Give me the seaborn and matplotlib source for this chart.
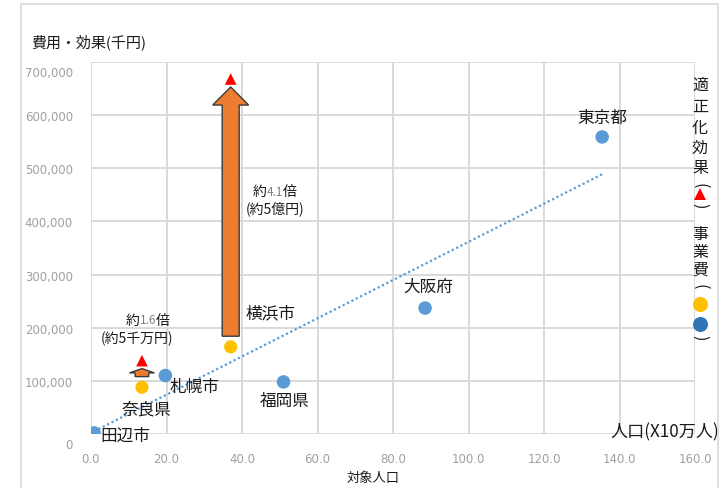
import numpy as np
import pandas as pd
import matplotlib
matplotlib.use("Agg")
import matplotlib.pyplot as plt
import matplotlib.transforms as mtransforms
from matplotlib.patches import FancyArrow, Rectangle
from matplotlib.lines import Line2D
import seaborn as sns

# 事業費のみの自治体（人口: 10万人単位, 費用: 千円）
blue_names = ["田辺市", "札幌市", "福岡県", "大阪府", "東京都"]
blue_pop = [0.8, 19.7, 51.0, 88.5, 135.4]
blue_cost = [2000, 110000, 98000, 237000, 559000]

# 事業費と適正化効果の両方がある自治体
yel_names = ["奈良県", "横浜市"]
yel_pop = [13.5, 37.0]
yel_cost = [88000, 164000]
yel_effect = [138000, 668000]
ratio_text = ["1.6", "4.1"]
gain_text = ["(約5千万円)", "(約5億円)"]

x_ticks = [0, 20, 40, 60, 80, 100, 120, 140, 160]
y_ticks = [0, 100000, 200000, 300000, 400000, 500000, 600000, 700000]

BLUE = "#5B9BD5"
BLUE_DARK = "#2E75B6"
YELLOW = "#FFC000"
RED = "#FF0000"
ORANGE = "#ED7D31"
GRID = "#D9D9D9"
TICK = "#A0A0A0"
INK = "#1A1A1A"

sns.set_theme(style="white")
plt.rcParams["font.family"] = ["Noto Sans CJK JP", "DejaVu Sans"]

W, H = 722, 489
fig = plt.figure(figsize=(W / 100, H / 100), dpi=100)


def fx(px):
    return px / W


def fy(py):
    return 1 - py / H


# chart frame
fig.add_artist(Rectangle((fx(21), fy(500)), fx(718) - fx(21), fy(5) - fy(500),
                         transform=fig.transFigure, fill=False,
                         edgecolor=GRID, lw=1.2))

ax = fig.add_axes([fx(91), fy(435), fx(695) - fx(91), fy(63) - fy(435)])
ax.set_xlim(0, 160)
ax.set_ylim(0, 700000)

# linear trend over every 事業費 point
cost_df = pd.DataFrame({"pop": blue_pop + yel_pop, "cost": blue_cost + yel_cost})
sns.regplot(data=cost_df, x="pop", y="cost", scatter=False, ci=None,
            truncate=True, ax=ax,
            line_kws=dict(color=BLUE, lw=1.6, ls=(0, (1, 1.2)), zorder=2))

# arrows from 事業費 up to 適正化効果
arrow_style = [dict(width=3.6, head_width=6.6, head_length=8000),
               dict(width=4.5, head_width=9.5, head_length=34000)]
for x, c, e, st in zip(yel_pop, yel_cost, yel_effect, arrow_style):
    y0 = c + 20000
    y1 = e - 15000
    ax.add_patch(FancyArrow(x, y0, 0, y1 - y0, length_includes_head=True,
                            facecolor=ORANGE, edgecolor="#3A3A3A", lw=1.0,
                            zorder=3, **st))

sns.scatterplot(x=blue_pop, y=blue_cost, color=BLUE, s=95, edgecolor="none",
                ax=ax, zorder=4)
sns.scatterplot(x=yel_pop, y=yel_cost, color=YELLOW, s=90, edgecolor="none",
                ax=ax, zorder=4)
sns.scatterplot(x=yel_pop, y=yel_effect, color=RED, marker="^", s=70,
                edgecolor="none", ax=ax, zorder=4)

# point labels (offsets in pixels)
label_pos = {
    "田辺市": (6, -2, "left"),
    "札幌市": (4, -11, "left"),
    "福岡県": (1, -19, "center"),
    "大阪府": (3, 22, "center"),
    "東京都": (0, 20, "center"),
    "奈良県": (5, -22, "center"),
    "横浜市": (40, 34, "center"),
}
for name, x, y in zip(blue_names + yel_names, blue_pop + yel_pop, blue_cost + yel_cost):
    dx, dy, ha = label_pos[name]
    ax.annotate(name, (x, y), xytext=(dx, dy), textcoords="offset pixels",
                ha=ha, va="center", fontsize=12, color=INK, zorder=5)

renderer = fig.canvas.get_renderer()


def mixed_label(xy, offset, pieces):
    texts, widths = [], []
    for s, color, size in pieces:
        t = ax.text(xy[0], xy[1], s, color=color, fontsize=size,
                    ha="left", va="center", zorder=5)
        widths.append(t.get_window_extent(renderer).width)
        texts.append(t)
    x0 = offset[0] - sum(widths) / 2
    for t, w in zip(texts, widths):
        t.set_transform(mtransforms.offset_copy(ax.transData, fig=fig,
                                                x=x0, y=offset[1], units="dots"))
        x0 += w


ratio_offsets = [((6, 41), (-5, 23)), ((44, -112), (44, -129))]
for x, e, r, g, (o1, o2) in zip(yel_pop, yel_effect, ratio_text, gain_text, ratio_offsets):
    mixed_label((x, e), o1, [("約", INK, 10), (r, "#7F7F7F", 8.5), ("倍", INK, 10)])
    mixed_label((x, e), o2, [(g, INK, 10)])

# axes styling
ax.set_xticks(x_ticks)
ax.set_yticks(y_ticks)
ax.set_xticklabels([f"{v:.1f}" for v in x_ticks])
ax.set_yticklabels([f"{v:,}" for v in y_ticks])
ax.set_xlabel("")
ax.set_ylabel("")
ax.grid(True, color=GRID, lw=1.4)
ax.set_axisbelow(True)
for sp in ax.spines.values():
    sp.set_visible(False)
ax.tick_params(axis="x", length=0, pad=13, labelsize=8.5, labelcolor=TICK)
ax.tick_params(axis="y", length=0, pad=13, labelsize=8.5, labelcolor=TICK)
for lab in ax.get_xticklabels():
    lab.set_fontfamily("DejaVu Sans")
for lab in ax.get_yticklabels():
    lab.set_fontfamily("DejaVu Sans")
ylabs = ax.get_yticklabels()
for lab in (ylabs[0], ylabs[-1]):
    lab.set_transform(lab.get_transform() +
                      mtransforms.ScaledTranslation(0, -9 / 100, fig.dpi_scale_trans))

# titles
fig.text(fx(31), fy(42), "費用・効果(千円)", fontsize=10.8, color=INK, ha="left", va="center")
fig.text(fx(347), fy(478), "対象人口", fontsize=9.5, color=INK, ha="left", va="center")
fig.text(fx(610), fy(432), "人口(X10万人)", fontsize=12.3, color=INK, ha="left", va="center")

# vertical legend on the right
LX = fx(700)
legend_items = [
    ("text", "適", 85), ("text", "正", 107), ("text", "化", 128),
    ("text", "効", 148), ("text", "果", 168), ("open", "(", 186),
    ("mark", ("^", RED, 12), 195), ("close", ")", 206),
    ("text", "事", 235), ("text", "業", 252), ("text", "費", 270),
    ("open", "(", 287), ("mark", ("o", YELLOW, 15), 305),
    ("mark", ("o", BLUE_DARK, 15), 325), ("close", ")", 338),
]
for kind, item, py in legend_items:
    if kind == "text":
        fig.text(LX, fy(py), item, fontsize=11.5, color=INK, ha="center", va="center")
    elif kind in ("open", "close"):
        fig.text(LX, fy(py), item, fontsize=11.5, color=INK, ha="center",
                 va="center", rotation=-90, rotation_mode="anchor")
    else:
        m, col, ms = item
        fig.add_artist(Line2D([LX], [fy(py)], transform=fig.transFigure,
                              marker=m, ms=ms * 0.72, color=col, ls="none",
                              markeredgewidth=0))

fig.savefig("out.png", dpi=100)
